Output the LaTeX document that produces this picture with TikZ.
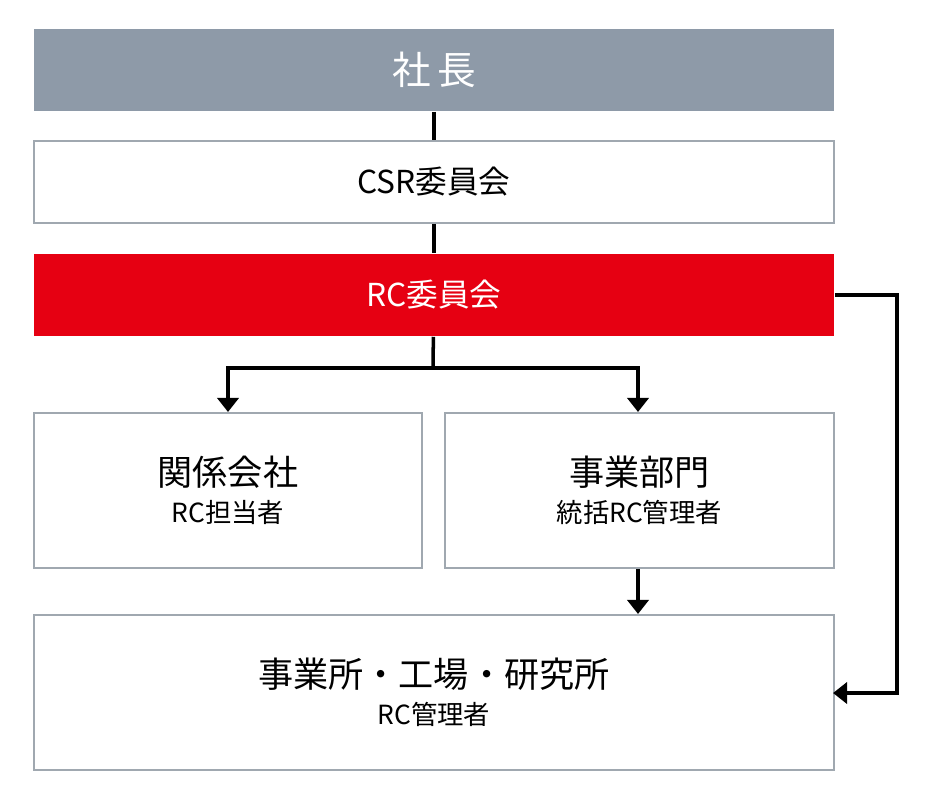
\documentclass[tikz,border=0pt]{standalone}
\usepackage{fontspec}
\setmainfont{Noto Sans CJK JP}
\usetikzlibrary{arrows.meta}
\definecolor{headgray}{HTML}{8E9AA8}
\definecolor{rcred}{HTML}{E60012}
\definecolor{linegray}{HTML}{A0A8B0}
\tikzset{
  orgbox/.style={draw=linegray, line width=1pt, fill=white, anchor=north west, inner sep=0pt},
  link/.style={line width=2pt, -{Triangle[length=8pt,width=12pt]}},
  plain/.style={line width=2pt}
}
\begin{document}
\begin{tikzpicture}[x=0.02cm, y=-0.02cm]
  \useasboundingbox (0,0) rectangle (928,804);

  % Top levels
  \node[orgbox, draw=none, fill=headgray, minimum width=800*0.02cm, minimum height=82*0.02cm,
        text=white, font=\fontsize{22}{26}\selectfont] (president) at (33,28) {社\,長};
  \node[orgbox, minimum width=800*0.02cm, minimum height=82*0.02cm,
        font=\fontsize{18}{22}\selectfont] (csr) at (33,140) {CSR委員会};
  \node[orgbox, draw=none, fill=rcred, minimum width=800*0.02cm, minimum height=82*0.02cm,
        text=white, font=\fontsize{18}{22}\selectfont] (rc) at (33,253) {RC委員会};

  % Middle level
  \node[orgbox, minimum width=388*0.02cm, minimum height=155*0.02cm, align=center] (affiliates) at (33,412)
    {{\fontsize{20}{24}\selectfont 関係会社}\\[6pt]{\fontsize{15}{18}\selectfont RC担当者}};
  \node[orgbox, minimum width=389*0.02cm, minimum height=155*0.02cm, align=center] (divisions) at (444,412)
    {{\fontsize{20}{24}\selectfont 事業部門}\\[6pt]{\fontsize{15}{18}\selectfont 統括RC管理者}};

  % Bottom level
  \node[orgbox, minimum width=800*0.02cm, minimum height=155*0.02cm, align=center] (sites) at (33,614)
    {{\fontsize{20}{24}\selectfont 事業所・工場・研究所}\\[6pt]{\fontsize{15}{18}\selectfont RC管理者}};

  % Connections
  \coordinate (split) at (433,368);
  \draw[plain] (president) -- (csr);
  \draw[plain] (csr) -- (rc);
  \draw[plain] (rc) -- (split);
  \draw[link] (split) -| (228,412);
  \draw[link] (split) -| (638,412);
  \draw[link] (divisions.south -| 638,0) -- (638,614);
  \draw[link] (rc.east) -| (897,693) -- (833,693);
\end{tikzpicture}
\end{document}
